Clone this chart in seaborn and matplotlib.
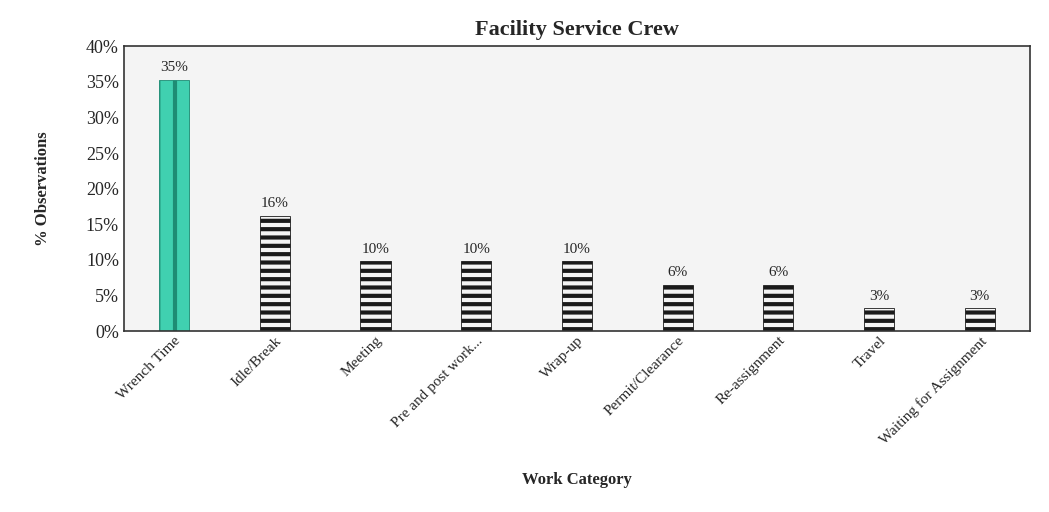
import matplotlib
matplotlib.use("Agg")
import matplotlib.pyplot as plt
import seaborn as sns
import pandas as pd
from matplotlib.ticker import PercentFormatter

categories = ["Wrench Time", "Idle/Break", "Meeting", "Pre and post work...", "Wrap-up",
              "Permit/Clearance", "Re-assignment", "Travel", "Waiting for Assignment"]
values = [35.3, 16.2, 9.8, 9.8, 9.8, 6.5, 6.5, 3.2, 3.2]
labels = ["35%", "16%", "10%", "10%", "10%", "6%", "6%", "3%", "3%"]

sns.set_style("white")
plt.rcParams["font.family"] = ["Liberation Serif", "DejaVu Serif"]
plt.rcParams["hatch.linewidth"] = 3.0

fig = plt.figure(figsize=(10.49, 5.12), dpi=100)
ax = fig.add_axes([0.118, 0.353, 0.864, 0.557])
df = pd.DataFrame({"cat": categories, "val": values})
sns.barplot(data=df, x="cat", y="val", ax=ax, width=0.3, color="#dddddd", saturation=1)
for i, p in enumerate(ax.patches):
    if i == 0:
        p.set_facecolor("#40d0b0"); p.set_edgecolor("#1e8c74"); p.set_hatch("|")
    else:
        p.set_facecolor("#f4f4f4"); p.set_edgecolor("#1a1a1a"); p.set_hatch("--")
    p.set_linewidth(0.6)
    ax.text(p.get_x() + p.get_width() / 2, p.get_height() + 0.8, labels[i],
            ha="center", va="bottom", fontsize=11)
ax.set_facecolor("#f4f4f4")
ax.set_ylim(0, 40)
ax.set_yticks(range(0, 41, 5))
ax.yaxis.set_major_formatter(PercentFormatter(decimals=0))
ax.tick_params(axis="y", labelsize=13, length=0)
ax.tick_params(axis="x", labelsize=11, length=0, pad=2)
plt.setp(ax.get_xticklabels(), rotation=45, ha="right", rotation_mode="anchor")
for s in ax.spines.values():
    s.set_visible(True); s.set_color("#333333"); s.set_linewidth(1.2)
ax.set_xlabel("Work Category", fontsize=12, fontweight="bold", labelpad=18)
ax.set_ylabel("% Observations", fontsize=12, fontweight="bold", labelpad=25)
ax.set_title("Facility Service Crew", fontsize=16, fontweight="bold", pad=8)
fig.savefig("out.png", dpi=100)
